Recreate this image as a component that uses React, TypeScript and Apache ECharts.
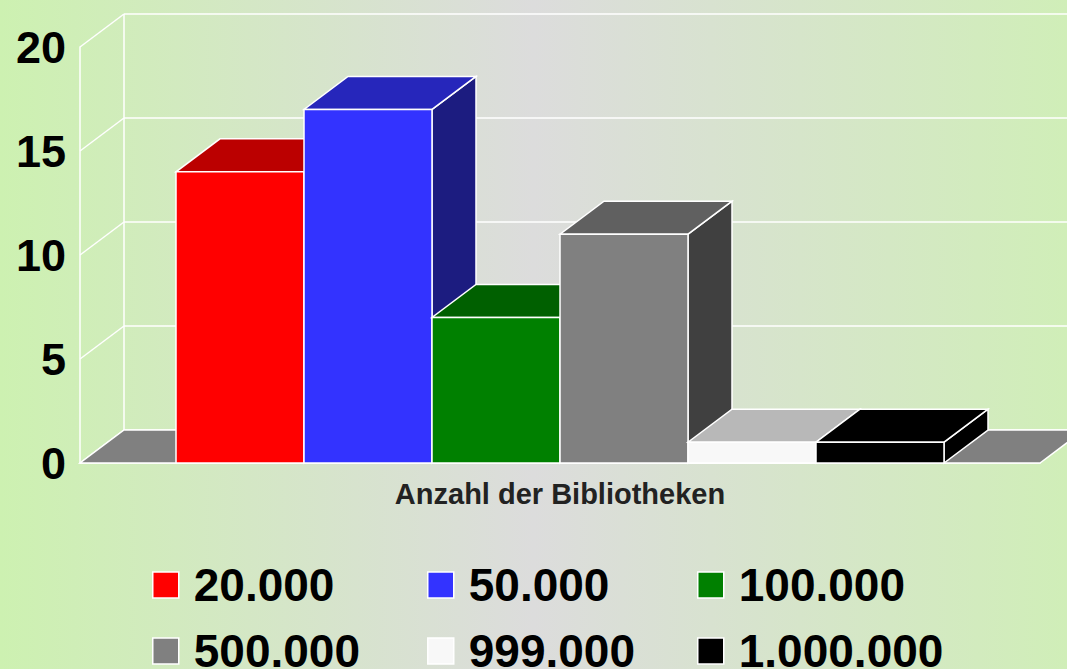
import React, { useEffect, useRef } from "react";
import * as echarts from "echarts";

const categories = ["Anzahl der Bibliotheken"];
const seriesNames = ["20.000", "50.000", "100.000", "500.000", "999.000", "1.000.000"];
const seriesValues = [14, 17, 7, 11, 1, 1];
const yTicks = [0, 5, 10, 15, 20];

const frontColors = ["#ff0000", "#3333ff", "#008000", "#808080", "#f8f8f8", "#000000"];
const topColors = ["#bb0000", "#2626bb", "#006000", "#606060", "#b8b8b8", "#000000"];
const sideColors = ["#800000", "#1c1c80", "#004000", "#404040", "#a0a0a0", "#000000"];

const DX = 44;
const DY = 33;
const FONT = '"Liberation Sans", Arial, Helvetica, sans-serif';
const EDGE = { stroke: "#ffffff", lineWidth: 1.5 };

export default function App() {
  const ref = useRef<HTMLDivElement>(null);
  useEffect(() => {
    if (!ref.current) return;
    const chart = echarts.init(ref.current, null, { renderer: "svg" });
    const n = seriesNames.length;

    const wallSeries: any = {
      type: "custom",
      name: "wall",
      silent: true,
      data: yTicks.map((v) => [0, v]),
      encode: { x: 0, y: 1 },
      renderItem: (params: any, api: any) => {
        const v = api.value(1);
        const p = api.coord([0, v]);
        const band = api.size([1, 0])[0];
        const left = p[0] - band / 2;
        const right = p[0] + band / 2;
        const children: any[] = [
          { type: "line", shape: { x1: left, y1: p[1], x2: left + DX, y2: p[1] - DY }, style: { stroke: "#fff", lineWidth: 1.5 } },
          { type: "line", shape: { x1: left + DX, y1: p[1] - DY, x2: right + DX, y2: p[1] - DY }, style: { stroke: "#fff", lineWidth: 1.5 } },
        ];
        if (params.dataIndex === 0) {
          const pt = api.coord([0, yTicks[yTicks.length - 1]]);
          children.push({ type: "line", shape: { x1: left + DX, y1: p[1] - DY, x2: left + DX, y2: pt[1] - DY }, style: { stroke: "#fff", lineWidth: 1.5 } });
        }
        return { type: "group", children };
      },
      z: 1,
    };

    const floorSeries: any = {
      type: "custom",
      name: "floor",
      silent: true,
      data: [[0, 0]],
      encode: { x: 0, y: 1 },
      renderItem: (params: any, api: any) => {
        const p = api.coord([0, 0]);
        const band = api.size([1, 0])[0];
        const left = p[0] - band / 2;
        const right = p[0] + band / 2;
        return {
          type: "polygon",
          shape: { points: [[left, p[1]], [right, p[1]], [right + DX, p[1] - DY], [left + DX, p[1] - DY]] },
          style: { fill: "#808080", ...EDGE },
        };
      },
      z: 2,
    };

    const barSeries: any[] = seriesNames.map((name, i) => ({
      type: "custom",
      name,
      itemStyle: { color: frontColors[i], borderColor: "#fff", borderWidth: 1.5 },
      data: [[0, seriesValues[i]]],
      encode: { x: 0, y: 1 },
      z: 3 + i,
      renderItem: (params: any, api: any) => {
        const base = api.coord([api.value(0), 0]);
        const top = api.coord([api.value(0), api.value(1)]);
        const band = api.size([1, 0])[0];
        const w = (band * 0.8) / n;
        const x0 = base[0] - band * 0.4 + i * w;
        const x1 = x0 + w;
        const yb = base[1];
        const yt = top[1];
        return {
          type: "group",
          children: [
            {
              type: "polygon",
              shape: { points: [[x1, yt], [x1 + DX, yt - DY], [x1 + DX, yb - DY], [x1, yb]] },
              style: { fill: sideColors[i], ...EDGE },
            },
            {
              type: "polygon",
              shape: { points: [[x0, yt], [x1, yt], [x1 + DX, yt - DY], [x0 + DX, yt - DY]] },
              style: { fill: topColors[i], ...EDGE },
            },
            {
              type: "rect",
              shape: { x: x0, y: yt, width: w, height: yb - yt },
              style: { fill: frontColors[i], ...EDGE },
            },
          ],
        };
      },
    }));

    const legendCommon = {
      type: "plain",
      orient: "vertical",
      icon: "rect",
      itemWidth: 26,
      itemHeight: 26,
      itemGap: 20,
      padding: 0,
      height: 300,
      selectedMode: false,
      itemStyle: { borderColor: "#fff", borderWidth: 1.5 },
      textStyle: { fontSize: 46, fontWeight: "bold", color: "#000", fontFamily: FONT, padding: [0, 0, 0, 10] },
      top: 562,
    };

    chart.setOption({
      animation: false,
      backgroundColor: new echarts.graphic.LinearGradient(0, 0, 1, 0, [
        { offset: 0, color: "#cdf1b1" },
        { offset: 0.5, color: "#dcdcdc" },
        { offset: 1, color: "#d0eeb8" },
      ]),
      grid: { left: 80, right: 27, top: 47, bottom: 206, containLabel: false },
      xAxis: {
        type: "category",
        data: categories,
        axisLine: { show: true, lineStyle: { color: "#fff", width: 1.5 } },
        axisTick: { show: false },
        axisLabel: { fontSize: 29, fontWeight: "bold", color: "#222", fontFamily: FONT, margin: 16 },
        splitLine: { show: false },
      },
      yAxis: {
        type: "value",
        min: 0,
        max: 20,
        interval: 5,
        axisLine: { show: true, lineStyle: { color: "#fff", width: 1.5 } },
        axisTick: { show: false },
        splitLine: { show: false },
        axisLabel: { fontSize: 45, fontWeight: "bold", color: "#000", fontFamily: FONT, margin: 14 },
      },
      legend: [
        { ...legendCommon, left: 152, data: [seriesNames[0], seriesNames[3]] },
        { ...legendCommon, left: 427, data: [seriesNames[1], seriesNames[4]] },
        { ...legendCommon, left: 697, data: [seriesNames[2], seriesNames[5]] },
      ],
      series: [wallSeries, floorSeries, ...barSeries],
    });
    return () => chart.dispose();
  }, []);
  return <div ref={ref} style={{ position: "fixed", left: 0, top: 0, width: 1067, height: 669 }} />;
}
